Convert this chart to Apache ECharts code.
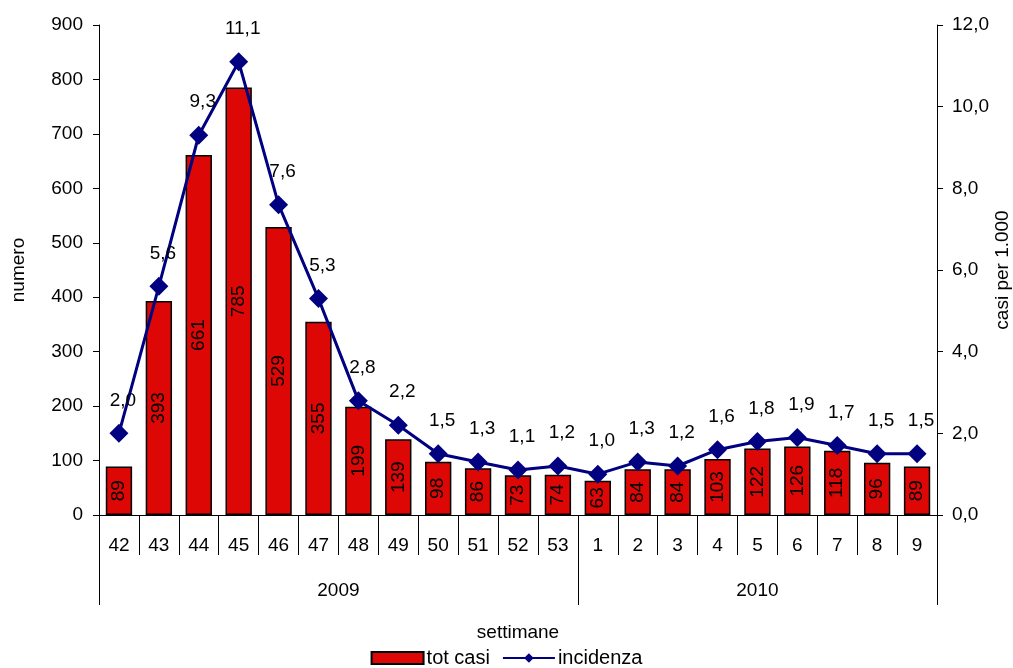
<!DOCTYPE html>
<html><head><meta charset="utf-8">
<script src="https://cdn.jsdelivr.net/npm/echarts@6/dist/echarts.min.js"></script>
<style>html,body{margin:0;padding:0;background:#fff}#c{width:1013px;height:668px}</style>
</head><body><div id="c"></div>
<script>
var weeks = ['42','43','44','45','46','47','48','49','50','51','52','53','1','2','3','4','5','6','7','8','9'];
var years = ['2009','2010'];
var totCasi = [89,393,661,785,529,355,199,139,98,86,73,74,63,84,84,103,122,126,118,96,89];
var incidenza = [2.0,5.6,9.3,11.1,7.6,5.3,2.8,2.2,1.5,1.3,1.1,1.2,1.0,1.3,1.2,1.6,1.8,1.9,1.7,1.5,1.5];
var leftTicks = {min:0, max:900, interval:100};
var rightTicks = {min:0, max:12, interval:2};

var font = 'Liberation Sans, Arial, sans-serif';
var fs = 19;
var comma = function(v){ return Number(v).toFixed(1).replace('.', ','); };
var nWeeks2009 = 12;
var chart = echarts.init(document.getElementById('c'));
chart.setOption({
  animation:false,
  textStyle:{fontFamily:font, color:'#000'},
  grid:{left:99, right:76, top:25, bottom:153, outerBoundsMode:'none', containLabel:false},
  legend:{
    bottom:0, left:'center', padding:0, itemWidth:52, itemHeight:12, itemGap:12,
    textStyle:{fontSize:20, color:'#000', fontFamily:font, padding:[0,0,0,-2]},
    data:[{name:'tot casi', icon:'rect'}, {name:'incidenza'}]
  },
  xAxis:[{
    type:'category', data:weeks, position:'bottom',
    axisLine:{lineStyle:{color:'#000', width:1}},
    axisTick:{show:true, interval:0, length:40, lineStyle:{color:'#000'}},
    axisLabel:{interval:0, fontSize:fs, color:'#000', margin:21, fontFamily:font}
  },{
    type:'value', min:0, max:weeks.length, position:'bottom', offset:0,
    axisLine:{show:false},
    splitLine:{show:false},
    axisTick:{show:true, length:90, customValues:[0, nWeeks2009, weeks.length], lineStyle:{color:'#000'}},
    axisLabel:{customValues:[nWeeks2009/2, (nWeeks2009+weeks.length)/2], margin:66, fontSize:fs, color:'#000', fontFamily:font,
      formatter:function(v){ return v < nWeeks2009 ? years[0] : years[1]; }},
    name:'settimane', nameLocation:'middle', nameGap:108, nameMoveOverlap:false,
    nameTextStyle:{fontSize:fs, color:'#000', fontFamily:font}
  }],
  yAxis:[{
    type:'value', min:leftTicks.min, max:leftTicks.max, interval:leftTicks.interval,
    axisLine:{show:true, lineStyle:{color:'#000'}},
    axisTick:{show:true, length:6, lineStyle:{color:'#000'}},
    splitLine:{show:false},
    axisLabel:{fontSize:fs, color:'#000', margin:16, fontFamily:font},
    name:'numero', nameLocation:'middle', nameRotate:90, nameGap:71, nameMoveOverlap:false,
    nameTextStyle:{fontSize:fs, color:'#000', fontFamily:font}
  },{
    type:'value', min:rightTicks.min, max:rightTicks.max, interval:rightTicks.interval, position:'right',
    axisLine:{show:true, lineStyle:{color:'#000'}},
    axisTick:{show:true, length:6, lineStyle:{color:'#000'}},
    splitLine:{show:false},
    axisLabel:{fontSize:fs, color:'#000', margin:15, fontFamily:font, formatter:comma},
    name:'casi per 1.000', nameLocation:'middle', nameRotate:90, nameGap:56, nameMoveOverlap:false,
    nameTextStyle:{fontSize:fs, color:'#000', fontFamily:font}
  }],
  series:[{
    name:'tot casi', type:'bar', data:totCasi, xAxisIndex:0, yAxisIndex:0,
    barCategoryGap:'34%',
    itemStyle:{color:'#dd0806', borderColor:'#000', borderWidth:1.5},
    label:{show:true, position:'inside', rotate:90, align:'center', verticalAlign:'middle',
      fontSize:fs, color:'#000', fontFamily:font}
  },{
    name:'incidenza', type:'line', data:incidenza, xAxisIndex:0, yAxisIndex:1,
    symbol:'diamond', symbolSize:19, showAllSymbol:true,
    lineStyle:{color:'#000080', width:3},
    itemStyle:{color:'#000080'},
    label:{show:true, position:'top', distance:14, offset:[4,0], fontSize:fs, color:'#000', fontFamily:font, formatter:function(p){return comma(p.value);}},
    z:5
  }]
});
</script></body></html>
